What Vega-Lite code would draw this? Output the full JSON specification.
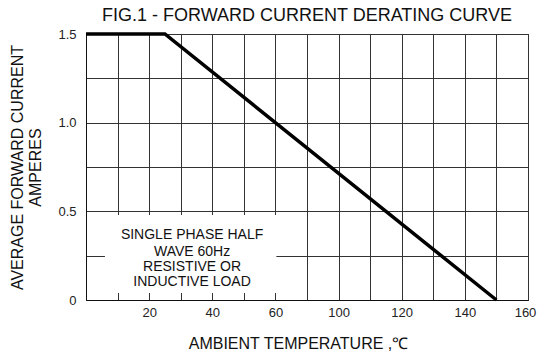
{
  "$schema": "https://vega.github.io/schema/vega-lite/v6.json",
  "autosize": "none",
  "padding": {"left": 86, "top": 34, "right": 9, "bottom": 58},
  "width": 442,
  "height": 266,
  "background": "white",
  "title": {
    "text": "FIG.1 - FORWARD CURRENT DERATING CURVE",
    "font": "Liberation Sans",
    "fontSize": 18,
    "fontWeight": "normal",
    "color": "#111",
    "anchor": "middle",
    "offset": 2
  },
  "config": {
    "view": {"stroke": "#111", "strokeWidth": 1},
    "font": "Liberation Sans"
  },
  "datasets": {
    "curve": [
      {"temp": 0, "amps": 1.5},
      {"temp": 25, "amps": 1.5},
      {"temp": 150, "amps": 0}
    ],
    "box": [
      {"temp": 6, "temp2": 60.6, "amps": 0.04, "amps2": 0.48}
    ],
    "note": [
      {"temp": 33.6, "amps": 0.367, "label": "SINGLE PHASE HALF"},
      {"temp": 33.6, "amps": 0.271, "label": "WAVE 60Hz"},
      {"temp": 33.6, "amps": 0.186, "label": "RESISTIVE OR"},
      {"temp": 33.6, "amps": 0.102, "label": "INDUCTIVE LOAD"}
    ]
  },
  "layer": [
    {
      "data": {"name": "box"},
      "mark": {"type": "rect", "fill": "white", "strokeWidth": 0},
      "encoding": {
        "x": {
          "field": "temp", "type": "quantitative",
          "scale": {"domain": [0, 60, 100, 160], "range": [0, 189.43, 252.57, 442], "nice": false, "zero": false},
          "axis": {
            "title": "AMBIENT TEMPERATURE ,℃",
            "values": [0, 10, 20, 30, 40, 50, 60, 80, 100, 110, 120, 130, 140, 150, 160],
            "tickCount": 50,
            "labelExpr": "indexof([20,40,60,100,120,140,160], datum.value) >= 0 ? datum.label : ''",
            "labelOffset": {"condition": {"test": "datum.value == 160", "value": -3}, "value": 0},
            "grid": true,
            "gridColor": "#333",
            "gridOpacity": 1,
            "gridWidth": 1,
            "ticks": false,
            "domain": true,
            "domainColor": "#111",
            "labelOverlap": false,
            "labelFlush": false,
            "labelFont": "Liberation Sans",
            "labelFontSize": 13,
            "labelColor": "#222",
            "labelPadding": 6,
            "titleFont": "Liberation Sans",
            "titleFontSize": 16,
            "titleFontWeight": "normal",
            "titleColor": "#111",
            "titlePadding": 16,
            "titleX": 212
          }
        },
        "x2": {"field": "temp2"},
        "y": {
          "field": "amps", "type": "quantitative",
          "scale": {"domain": [0, 1.5], "nice": false, "zero": false},
          "axis": {
            "title": ["AVERAGE FORWARD CURRENT", "AMPERES"],
            "values": [0, 0.25, 0.5, 0.75, 1, 1.25, 1.5],
            "tickCount": 50,
            "labelExpr": "datum.value == 0 ? '0' : ((datum.value * 2) % 1 == 0 ? format(datum.value, '.1f') : '')",
            "grid": true,
            "gridColor": "#333",
            "gridOpacity": 1,
            "gridWidth": 1,
            "ticks": false,
            "domain": true,
            "domainColor": "#111",
            "labelOverlap": false,
            "labelFlush": false,
            "labelFont": "Liberation Sans",
            "labelFontSize": 13,
            "labelColor": "#222",
            "labelPadding": 10,
            "titleFont": "Liberation Sans",
            "titleFontSize": 16,
            "titleFontWeight": "normal",
            "titleColor": "#111",
            "titlePadding": 14,
            "titleLineHeight": 18
          }
        },
        "y2": {"field": "amps2"}
      }
    },
    {
      "data": {"name": "curve"},
      "mark": {"type": "line", "color": "black", "strokeWidth": 3.5, "strokeCap": "butt", "clip": false},
      "encoding": {
        "x": {"field": "temp", "type": "quantitative", "scale": {"domain": [0, 60, 100, 160], "range": [0, 189.43, 252.57, 442], "nice": false, "zero": false}},
        "y": {"field": "amps", "type": "quantitative", "scale": {"domain": [0, 1.5], "nice": false, "zero": false}}
      }
    },
    {
      "data": {"name": "note"},
      "mark": {"type": "text", "font": "Liberation Sans", "fontSize": 14, "color": "#111", "align": "center", "baseline": "middle"},
      "encoding": {
        "x": {"field": "temp", "type": "quantitative", "scale": {"domain": [0, 60, 100, 160], "range": [0, 189.43, 252.57, 442], "nice": false, "zero": false}},
        "y": {"field": "amps", "type": "quantitative", "scale": {"domain": [0, 1.5], "nice": false, "zero": false}},
        "text": {"field": "label"}
      }
    }
  ]
}
